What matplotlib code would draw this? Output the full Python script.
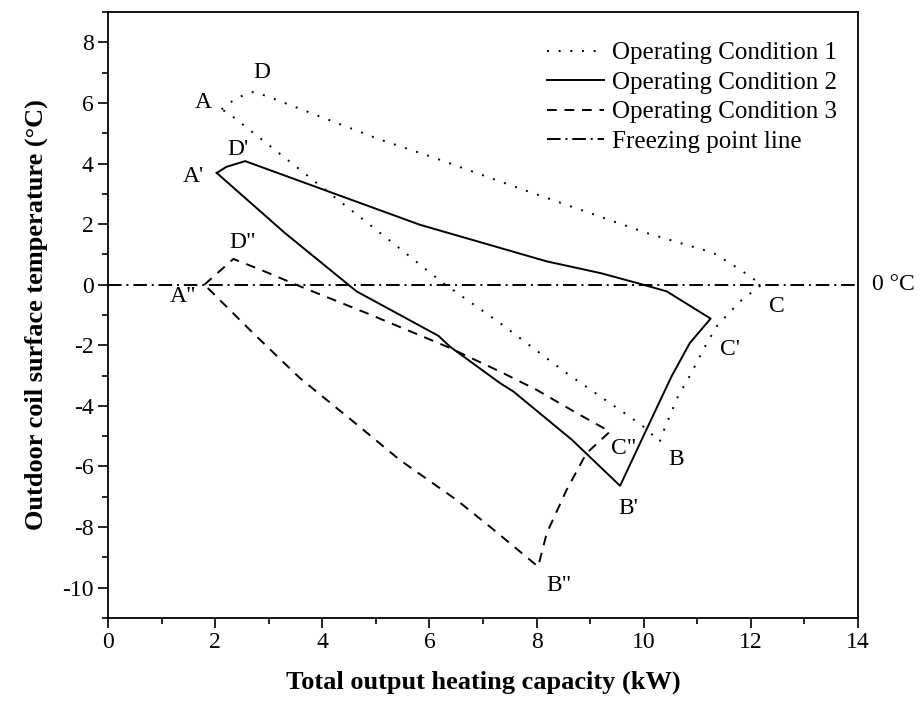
import matplotlib
matplotlib.use("Agg")
import matplotlib.pyplot as plt
from matplotlib.ticker import MultipleLocator

plt.rcParams["font.family"] = ["Liberation Serif", "DejaVu Serif"]
plt.rcParams["axes.unicode_minus"] = False

# Operating condition 1: A -> D -> C -> B -> A
cond1_x = [2.12, 2.40, 2.71, 2.96, 5.08, 6.01, 7.57, 10.05, 11.30, 11.80, 12.20,
           11.80, 11.36, 11.11, 10.89, 10.64, 10.40, 10.30,
           9.96, 8.56, 7.32, 6.26, 5.08, 4.21, 2.28, 2.12]
cond1_y = [5.79, 6.17, 6.36, 6.23, 4.79, 4.24, 3.25, 1.71, 1.05, 0.50, 0.00,
           -0.55, -1.38, -2.15, -2.92, -3.69, -4.70, -5.18,
           -4.63, -2.92, -1.27, 0.05, 1.71, 2.92, 5.62, 5.79]

# Operating condition 2: A' -> D' -> C' -> B' -> A'
cond2_x = [2.03, 2.21, 2.56, 5.82, 8.19, 9.20, 9.93, 10.43, 11.25,
           10.86, 10.52, 10.05, 9.56, 8.66, 7.57, 7.32, 6.38, 6.17, 4.64, 3.30, 2.03]
cond2_y = [3.69, 3.89, 4.08, 1.98, 0.77, 0.38, 0.03, -0.22, -1.12,
           -1.93, -3.03, -4.79, -6.64, -5.12, -3.53, -3.25, -2.04, -1.69, -0.22, 1.71, 3.69]

# Operating condition 3: A'' -> D'' -> C'' -> B'' -> A''
cond3_x = [1.80, 2.34, 2.84, 3.58, 4.83, 6.32, 7.32, 8.00, 8.75, 9.37,
           8.93, 8.56, 8.19, 8.03, 7.88, 7.13, 6.51, 5.45, 4.58, 3.58, 2.71, 1.80]
cond3_y = [0.00, 0.85, 0.50, -0.05, -0.94, -2.04, -2.87, -3.47, -4.24, -4.85,
           -5.57, -6.78, -8.21, -9.31, -9.09, -7.99, -7.11, -5.79, -4.52, -3.08, -1.60, 0.00]

freezing_temp = 0.0

point_labels = ["A", "D", "C", "B", "A'", "D'", "C'", "B'", 'A"', 'D"', 'C"', 'B"']
label_x = [1.77, 2.87, 12.48, 10.61, 1.59, 2.43, 11.61, 9.71, 1.40, 2.52, 9.62, 8.41]
label_y = [6.02, 7.00, -0.72, -5.76, 3.57, 4.46, -2.15, -7.38, -0.40, 1.39, -5.40, -9.92]

fig = plt.figure(figsize=(9.23, 7.11), dpi=100)
ax = fig.add_axes([0.117, 0.131, 0.8125, 0.852])

lw = 1.4
ax.plot(cond1_x, cond1_y, color="black", lw=lw, linestyle=(0, (1, 5)),
        label="Operating Condition 1")
ax.plot(cond2_x, cond2_y, color="black", lw=lw, linestyle="-",
        label="Operating Condition 2")
ax.plot(cond3_x, cond3_y, color="black", lw=lw, linestyle=(0, (5, 4)),
        label="Operating Condition 3")
ax.axhline(freezing_temp, color="black", lw=lw, linestyle=(0, (7, 2.5, 1, 2.5)),
           label="Freezing point line")

for txt, x, y in zip(point_labels, label_x, label_y):
    ax.text(x, y, txt, fontsize=17, ha="center", va="center")

ax.text(14.26, freezing_temp, "0 °C", fontsize=17, ha="left", va="center",
        clip_on=False)

ax.set_xlim(0, 14)
ax.set_ylim(-11, 9)
ax.xaxis.set_major_locator(MultipleLocator(2))
ax.xaxis.set_minor_locator(MultipleLocator(1))
ax.yaxis.set_minor_locator(MultipleLocator(1))
ax.set_yticks(range(-10, 9, 2))
ax.tick_params(which="both", direction="out", width=1.2, labelsize=17)
ax.tick_params(which="major", length=7)
ax.tick_params(which="minor", length=4)
for sp in ax.spines.values():
    sp.set_linewidth(1.3)

ax.set_xlabel("Total output heating capacity (kW)", fontsize=19,
              fontweight="bold", labelpad=12)
ax.set_ylabel("Outdoor coil surface temperature (°C)", fontsize=19,
              fontweight="bold", labelpad=10)

ax.legend(loc="upper left", bbox_to_anchor=(0.585, 0.951), frameon=False,
          fontsize=18, handlelength=2.3, handletextpad=0.3, labelspacing=0.28,
          borderaxespad=0, borderpad=0)

fig.savefig("out.png", dpi=100)
